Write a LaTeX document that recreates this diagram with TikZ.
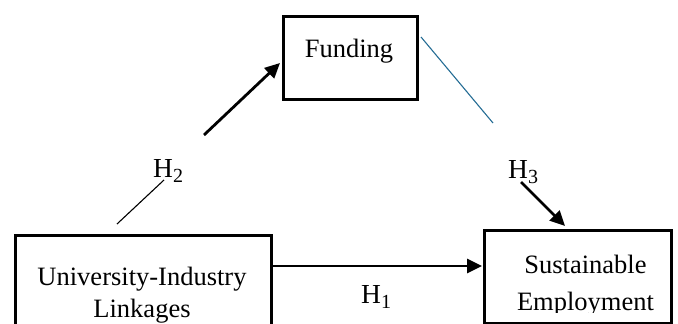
\documentclass[tikz,border=0pt]{standalone}
\usepackage{fontspec}
\setmainfont{Liberation Serif}
\usetikzlibrary{arrows.meta}
\definecolor{linkteal}{RGB}{36,108,148}
\newcommand{\hsub}[1]{\raisebox{-5pt}{\fontsize{20}{22}\selectfont #1}}
\tikzset{
  box/.style={draw, line width=3pt, inner sep=0pt, anchor=north west},
  txt/.style={font=\fontsize{26.5}{30}\selectfont, inner sep=0pt, anchor=base},
  hyp/.style={font=\fontsize{27.5}{30}\selectfont, inner sep=0pt, anchor=base west},
  arr/.style={line width=2.8pt, -{Triangle[length=15pt,width=14pt]}},
  thin/.style={line width=1.1pt}
}
\begin{document}
\begin{tikzpicture}[x=1pt,y=-1pt]
\useasboundingbox (0,0) rectangle (678,324);
\begin{scope}
\clip (0,0) rectangle (678,324);
% boxes
\node[box, minimum width=134pt, minimum height=83pt] (fund) at (282,15) {};
\node[box, minimum width=256pt, minimum height=110pt] (uil) at (14,234) {};
\node[box, minimum width=187pt, minimum height=93pt] (sem) at (483,229) {};
% box texts
\node[txt] (tfund) at (349,57) {Funding};
\node[txt] (tuil1) at (142,285) {University-Industry};
\node[txt] (tuil2) at (142,317) {Linkages};
\node[txt] (tsem1) at (585.5,273) {Sustainable};
\begin{scope}
\clip (483,240) rectangle (670,312);
\node[txt] (tsem2) at (585.5,310) {Employment};
\end{scope}
\end{scope}
% hypothesis labels
\node[hyp] (h1) at (361,303) {H\hsub{1}};
\node[hyp] (h2) at (153,177) {H\hsub{2}};
\node[hyp] (h3) at (508,178) {H\hsub{3}};
% path segments
\coordinate (a2s) at (117,224);
\coordinate (a2m) at (164,180);
\coordinate (a2b) at (204,135);
\coordinate (a2e) at (280,63);
\coordinate (a3s) at (421,37);
\coordinate (a3m) at (493,123);
\coordinate (a3b) at (521,182);
\coordinate (a3e) at (565,226);
\coordinate (a1s) at (271,266);
\coordinate (a1e) at (482,266);
\draw[thin] (a2s) -- (a2m);
\draw[arr] (a2b) -- (a2e);
\draw[thin, linkteal] (a3s) -- (a3m);
\draw[arr] (a3b) -- (a3e);
\draw[arr] (a1s) -- (a1e);
\end{tikzpicture}
\end{document}
